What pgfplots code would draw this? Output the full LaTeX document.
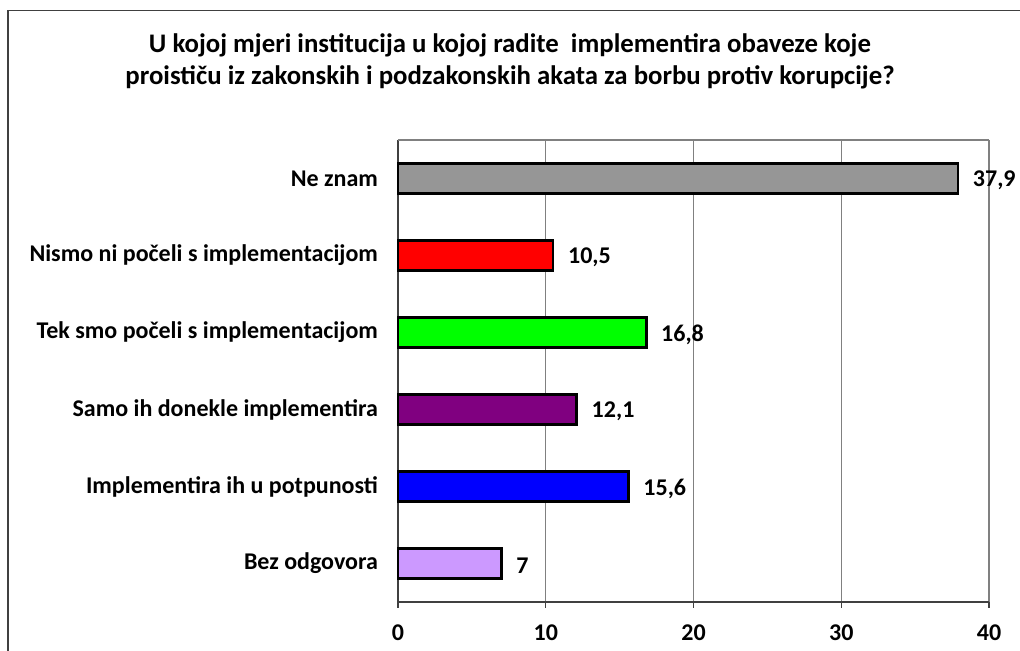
\documentclass[border=0pt]{standalone}
\usepackage{pgfplots}
\pgfplotsset{compat=1.18}
\usepackage{fontspec}
\setmainfont{Carlito}
\definecolor{cgray}{RGB}{150,150,150}
\definecolor{cred}{RGB}{255,0,0}
\definecolor{cgreen}{RGB}{0,255,0}
\definecolor{cpurple}{RGB}{128,0,128}
\definecolor{cblue}{RGB}{0,0,255}
\definecolor{clav}{RGB}{204,153,255}
\definecolor{gridc}{RGB}{128,128,128}
\begin{document}
\begin{tikzpicture}
\useasboundingbox (-199pt,-24.5pt) rectangle (311pt,301pt);
\draw[color=black!75, line width=0.7pt] (-195pt,-40pt) -- (-195pt,295.75pt) -- (330pt,295.75pt);
\begin{axis}[
  at={(0,0)}, anchor=south west,
  scale only axis, width=295.5pt, height=231pt,
  xmin=0, xmax=40, ymin=-0.5, ymax=5.5,
  axis lines=left, axis line style={-, color=black!75, line width=0.7pt},
  xtick={0,10,20,30,40},
  ytick={0,1,2,3,4,5},
  yticklabels={Bez odgovora, Implementira ih u potpunosti, Samo ih donekle implementira, Tek smo počeli s implementacijom, Nismo ni počeli s implementacijom, Ne znam},
  extra y ticks={-0.5,0.5,1.5,2.5,3.5,4.5,5.5},
  extra y tick labels={},
  extra y tick style={major tick length=3pt, tick align=outside, tick style={color=black!75, line width=0.6pt}},
  ytick style={draw=none},
  xtick style={color=black!75, line width=0.6pt},
  tick align=outside, major tick length=3pt,
  xmajorgrids, major grid style={color=gridc, line width=0.6pt},
  tick label style={font=\bfseries\fontsize{12}{14}\selectfont},
  /pgf/number format/assume math mode=true,
  yticklabel style={xshift=-3.5pt},
  xticklabel style={yshift=-5pt},
  xbar, bar width=15pt, bar shift=0pt,
  nodes near coords,
  /pgf/number format/use comma,
  every node near coord/.append style={font=\bfseries\fontsize{12}{14}\selectfont, xshift=3.5pt, yshift=-1pt, color=black},
  clip=false,
]
\addplot[fill=clav, draw=black, line width=1.3pt] coordinates {(7,0)};
\addplot[fill=cblue, draw=black, line width=1.3pt] coordinates {(15.6,1)};
\addplot[fill=cpurple, draw=black, line width=1.3pt] coordinates {(12.1,2)};
\addplot[fill=cgreen, draw=black, line width=1.3pt] coordinates {(16.8,3)};
\addplot[fill=cred, draw=black, line width=1.3pt] coordinates {(10.5,4)};
\addplot[fill=cgray, draw=black, line width=1.3pt] coordinates {(37.9,5)};
\draw[color=gridc, line width=0.6pt] (rel axis cs:0,1) -- (rel axis cs:1,1);
\end{axis}
\node[align=center, font=\bfseries\fontsize{13.4}{16}\selectfont] at (56pt,270.5pt) {U kojoj mjeri institucija u kojoj radite\ \ implementira obaveze koje\\proističu iz zakonskih i podzakonskih akata za borbu protiv korupcije?};
\end{tikzpicture}
\end{document}
